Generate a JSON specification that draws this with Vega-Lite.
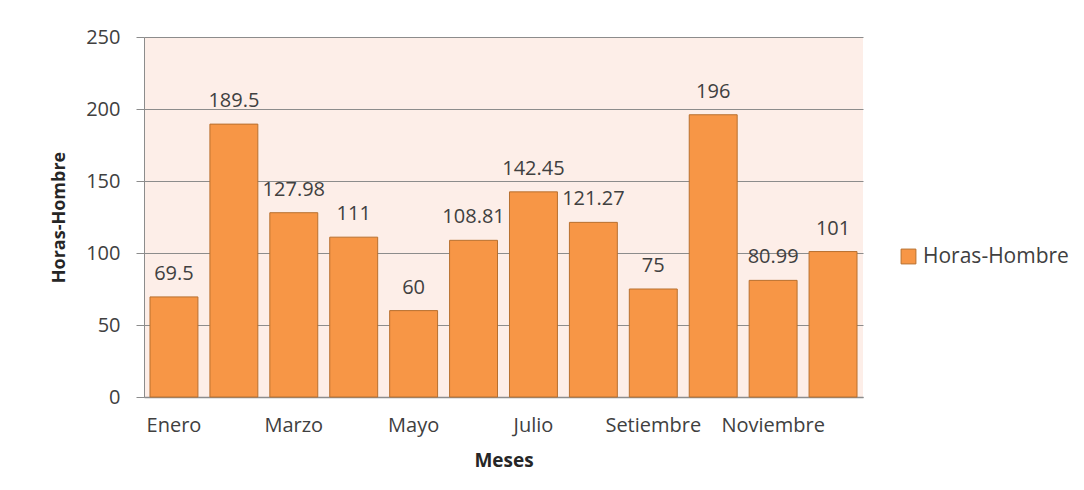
{
  "$schema": "https://vega.github.io/schema/vega-lite/v6.json",
  "autosize": {"type": "none"},
  "width": 719,
  "height": 360,
  "padding": {"left": 144, "top": 37, "right": 221, "bottom": 93},
  "background": "#ffffff",
  "config": {
    "font": "Open Sans",
    "view": {"fill": "#fdeee8", "stroke": null},
    "axis": {"labelFont": "Open Sans", "titleFont": "Open Sans"}
  },
  "data": {
    "values": [
      {"mes": "Enero", "valor": 69.5, "etiqueta": "69.5", "serie": "Horas-Hombre"},
      {"mes": "Febrero", "valor": 189.5, "etiqueta": "189.5", "serie": "Horas-Hombre"},
      {"mes": "Marzo", "valor": 127.98, "etiqueta": "127.98", "serie": "Horas-Hombre"},
      {"mes": "Abril", "valor": 111, "etiqueta": "111", "serie": "Horas-Hombre"},
      {"mes": "Mayo", "valor": 60, "etiqueta": "60", "serie": "Horas-Hombre"},
      {"mes": "Junio", "valor": 108.81, "etiqueta": "108.81", "serie": "Horas-Hombre"},
      {"mes": "Julio", "valor": 142.45, "etiqueta": "142.45", "serie": "Horas-Hombre"},
      {"mes": "Agosto", "valor": 121.27, "etiqueta": "121.27", "serie": "Horas-Hombre"},
      {"mes": "Setiembre", "valor": 75, "etiqueta": "75", "serie": "Horas-Hombre"},
      {"mes": "Octubre", "valor": 196, "etiqueta": "196", "serie": "Horas-Hombre"},
      {"mes": "Noviembre", "valor": 80.99, "etiqueta": "80.99", "serie": "Horas-Hombre"},
      {"mes": "Diciembre", "valor": 101, "etiqueta": "101", "serie": "Horas-Hombre"}
    ]
  },
  "encoding": {
    "x": {
      "field": "mes",
      "type": "nominal",
      "sort": null,
      "scale": {"paddingInner": 0.2, "paddingOuter": 0.1},
      "axis": {
        "title": "Meses",
        "titleFontSize": 19,
        "titleFontWeight": "bold",
        "titleColor": "#262626",
        "titlePadding": 16,
        "labelAngle": 0,
        "labelFontSize": 20,
        "labelColor": "#404040",
        "labelPadding": 18,
        "labelOverlap": false,
        "labelExpr": "indexof(['Enero','Marzo','Mayo','Julio','Setiembre','Noviembre'], datum.value) >= 0 ? datum.value : ''",
        "ticks": false,
        "domainColor": "#8c8c8c",
        "domainWidth": 1.5
      }
    },
    "y": {
      "field": "valor",
      "type": "quantitative",
      "scale": {"domain": [0, 250], "nice": false},
      "axis": {
        "title": "Horas-Hombre",
        "titleFontSize": 18,
        "titleFontWeight": "bold",
        "titleColor": "#262626",
        "titlePadding": 17,
        "values": [0, 50, 100, 150, 200, 250],
        "labelFontSize": 20,
        "labelColor": "#404040",
        "labelPadding": 16,
        "tickSize": 8,
        "tickColor": "#8c8c8c",
        "domainColor": "#8c8c8c",
        "gridColor": "#8c8c8c",
        "gridWidth": 1.2,
        "grid": true
      }
    }
  },
  "layer": [
    {
      "mark": {"type": "bar", "stroke": "#b8702f", "strokeWidth": 1, "fillOpacity": 1},
      "encoding": {
        "color": {
          "field": "serie",
          "type": "nominal",
          "scale": {"range": ["#f79646"]},
          "legend": {
            "title": null,
            "orient": "none",
            "legendX": 754,
            "legendY": 209,
            "symbolType": "square",
            "symbolSize": 220,
            "symbolStrokeColor": "#b8702f",
            "symbolStrokeWidth": 1,
            "labelFontSize": 21,
            "labelColor": "#404040",
            "labelFont": "Open Sans"
          }
        }
      }
    },
    {
      "mark": {"type": "text", "baseline": "alphabetic", "dy": -17, "fontSize": 20, "color": "#404040", "font": "Open Sans"},
      "encoding": {"text": {"field": "etiqueta"}}
    }
  ]
}
